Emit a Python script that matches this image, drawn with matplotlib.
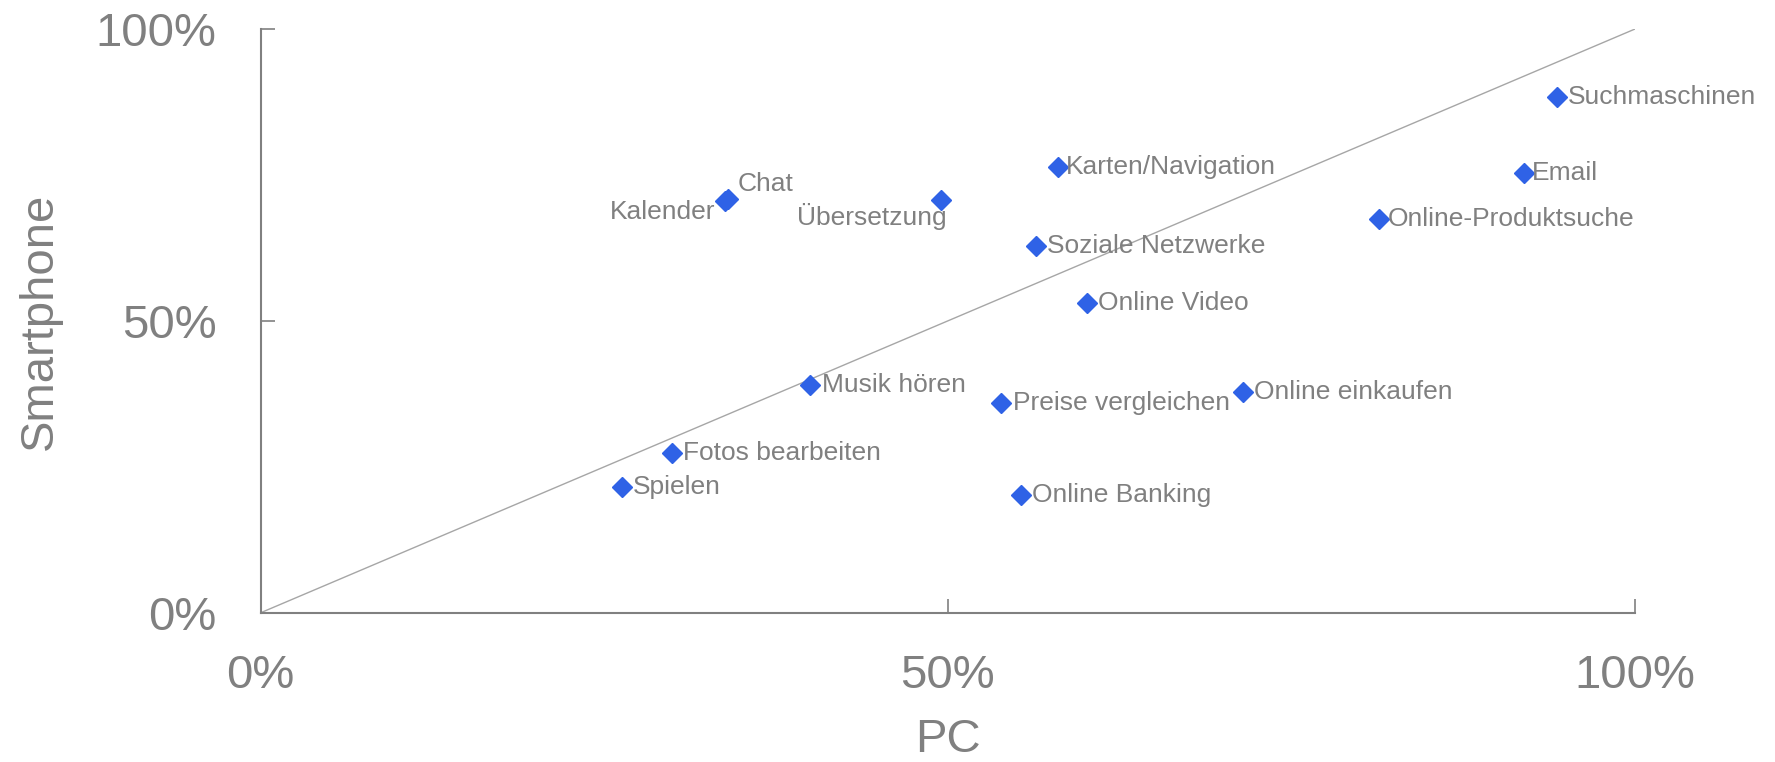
import matplotlib.pyplot as plt
from matplotlib.ticker import PercentFormatter

plt.rcParams['font.family'] = ['Liberation Sans', 'DejaVu Sans']

# Nutzung: Anteil PC (x) und Smartphone (y), in Prozent
labels = ["Suchmaschinen", "Email", "Online-Produktsuche", "Karten/Navigation",
          "Übersetzung", "Kalender", "Chat", "Soziale Netzwerke", "Online Video",
          "Musik hören", "Preise vergleichen", "Online einkaufen",
          "Fotos bearbeiten", "Spielen", "Online Banking"]
pc = [94.3, 91.9, 81.4, 58.0, 49.5, 33.8, 34.0, 56.4, 60.1,
      40.0, 53.9, 71.5, 29.9, 26.3, 55.3]
smartphone = [88.4, 75.4, 67.4, 76.4, 70.7, 70.5, 70.9, 62.8, 53.1,
              39.0, 36.0, 37.8, 27.3, 21.5, 20.2]

grey = "#808080"
blue = "#2f62e6"

fig = plt.figure(figsize=(17.75, 7.62), dpi=100)
ax = fig.add_axes([0.1469, 0.1959, 0.7742, 0.766])

ax.plot([0, 100], [0, 100], color="#a6a6a6", lw=1, zorder=1)
ax.plot(pc, smartphone, linestyle="none", marker="D", markersize=10,
        color=blue, zorder=3)

for name, x, y in zip(labels, pc, smartphone):
    if name == "Kalender":
        ax.annotate(name, (x, y), xytext=(-7, -8), textcoords="offset points",
                    ha="right", va="center", fontsize=19, color=grey)
    elif name == "Übersetzung":
        ax.annotate(name, (x, y), xytext=(4, -12), textcoords="offset points",
                    ha="right", va="center", fontsize=19, color=grey)
    elif name == "Chat":
        ax.annotate(name, (x, y), xytext=(7, 11), textcoords="offset points",
                    ha="left", va="center", fontsize=19, color=grey)
    elif name in ("Suchmaschinen", "Online Video", "Musik hören",
                  "Preise vergleichen", "Online einkaufen", "Spielen",
                  "Online Banking", "Fotos bearbeiten", "Soziale Netzwerke"):
        ax.annotate(name, (x, y), xytext=(8, 0), textcoords="offset points",
                    ha="left", va="center", fontsize=19, color=grey)
    else:
        ax.annotate(name, (x, y), xytext=(6, 0), textcoords="offset points",
                    ha="left", va="center", fontsize=19, color=grey)

ax.set_xlim(0, 100)
ax.set_ylim(0, 100)
ax.set_xticks([0, 50, 100])
ax.set_yticks([0, 50, 100])
ax.xaxis.set_major_formatter(PercentFormatter(decimals=0))
ax.yaxis.set_major_formatter(PercentFormatter(decimals=0))
ax.tick_params(direction="in", length=10, width=1.2, color=grey,
               labelcolor=grey, labelsize=34)
ax.tick_params(axis="y", pad=32)
ax.tick_params(axis="x", pad=30)

for side in ["top", "right"]:
    ax.spines[side].set_visible(False)
for side in ["left", "bottom"]:
    ax.spines[side].set_color(grey)
    ax.spines[side].set_linewidth(1.5)

ax.set_xlabel("PC", fontsize=34, color=grey, labelpad=14)
ax.set_ylabel("Smartphone", fontsize=34, color=grey)
ax.yaxis.set_label_coords(-0.145, 0.5)

fig.savefig("out.png", dpi=100)
